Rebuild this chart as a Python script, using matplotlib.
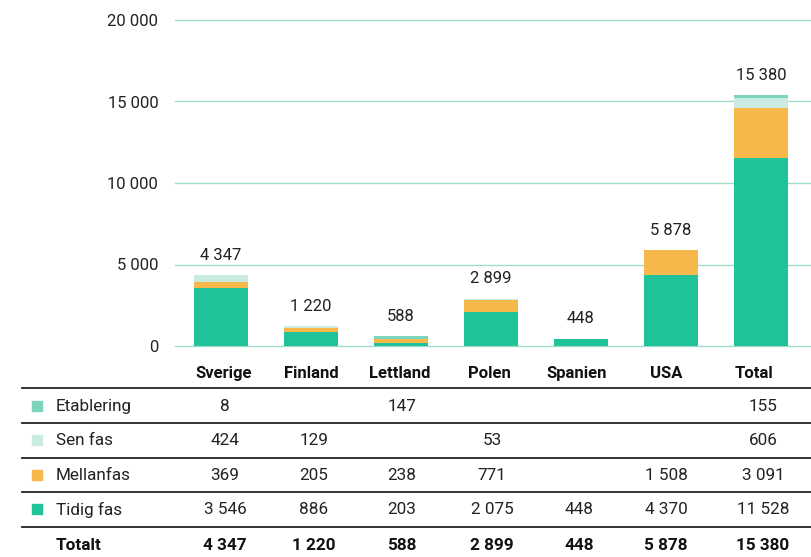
import matplotlib.pyplot as plt
from matplotlib.ticker import FuncFormatter

plt.rcParams['font.family'] = ['Roboto', 'DejaVu Sans']

# Data
cats = ["Sverige", "Finland", "Lettland", "Polen", "Spanien", "USA", "Total"]
tidig = [3546, 886, 203, 2075, 448, 4370, 11528]
mellan = [369, 205, 238, 771, 0, 1508, 3091]
sen = [424, 129, 0, 53, 0, 0, 606]
etab = [8, 0, 147, 0, 0, 0, 155]
totals = [4347, 1220, 588, 2899, 448, 5878, 15380]

series = [("Tidig fas", tidig, "#20C29A"),
          ("Mellanfas", mellan, "#F7B84B"),
          ("Sen fas", sen, "#C9EBE2"),
          ("Etablering", etab, "#7CD4BC")]


def fmt(v):
    return f"{v:,}".replace(",", " ")


W, H = 811, 557
fig = plt.figure(figsize=(W / 100, H / 100), dpi=100)

# bar chart axes (pixel layout)
ax = fig.add_axes([175 / W, (H - 346) / H, 636 / W, 326 / H])
x = list(range(len(cats)))
bottom = [0] * len(cats)
for name, vals, col in series:
    ax.bar(x, vals, width=0.61, bottom=bottom, color=col, zorder=3)
    bottom = [b + v for b, v in zip(bottom, vals)]

for i, t in enumerate(totals):
    ax.annotate(fmt(t), (i, t), textcoords="offset points", xytext=(0, 9),
                ha='center', va='bottom', fontsize=12, color="#222222")

ax.set_xlim(-0.511, 6.556)
ax.set_ylim(0, 20000)
ax.set_yticks([0, 5000, 10000, 15000, 20000])
ax.yaxis.set_major_formatter(FuncFormatter(lambda v, p: fmt(int(v))))
ax.grid(axis='y', color="#9FDCC9", lw=1, zorder=0)
ax.set_axisbelow(True)
for s in ax.spines.values():
    s.set_visible(False)
ax.set_xticks([])
ax.tick_params(axis='y', length=0, pad=12, labelsize=12, colors="#222222")
for gl in ax.get_ygridlines():
    gl.set_clip_on(False)

# table below, in pixel-like coordinates (x: px, y: px from top)
tab = fig.add_axes([0, 0, 1, (H - 346) / H])
tab.set_xlim(0, W)
tab.set_ylim(H, 346)
tab.axis('off')

head_x = [224, 311, 400, 489, 577, 666, 754]
col_x = [225, 314, 402, 492, 579, 666, 763]

for c, cx in zip(cats, head_x):
    tab.text(cx, 374, c, ha='center', va='center', fontsize=12,
             fontweight='bold', color="#111111")

rows = [("Etablering", etab, "#7CD4BC"),
        ("Sen fas", sen, "#C9EBE2"),
        ("Mellanfas", mellan, "#F7B84B"),
        ("Tidig fas", tidig, "#20C29A")]
row_y = [407, 441, 476, 510]

for ly in [388, 423, 458, 492, 527]:
    tab.plot([22, W], [ly, ly], color="#222222", lw=1.3)

for (name, vals, col), yc in zip(rows, row_y):
    tab.scatter([37], [yc - 1], marker='s', s=42, color=col, clip_on=False)
    tab.text(56, yc, name, ha='left', va='center', fontsize=12.3,
             color="#222222")
    for cx, v in zip(col_x, vals):
        if v:
            tab.text(cx, yc, fmt(v), ha='center', va='center', fontsize=12.3,
                     color="#222222")

tab.text(56, 546, "Totalt", ha='left', va='center', fontsize=12.3,
         fontweight='bold', color="#111111")
for cx, t in zip(col_x, totals):
    tab.text(cx, 546, fmt(t), ha='center', va='center', fontsize=12.3,
             fontweight='bold', color="#111111")

fig.savefig("out.png", dpi=100)
